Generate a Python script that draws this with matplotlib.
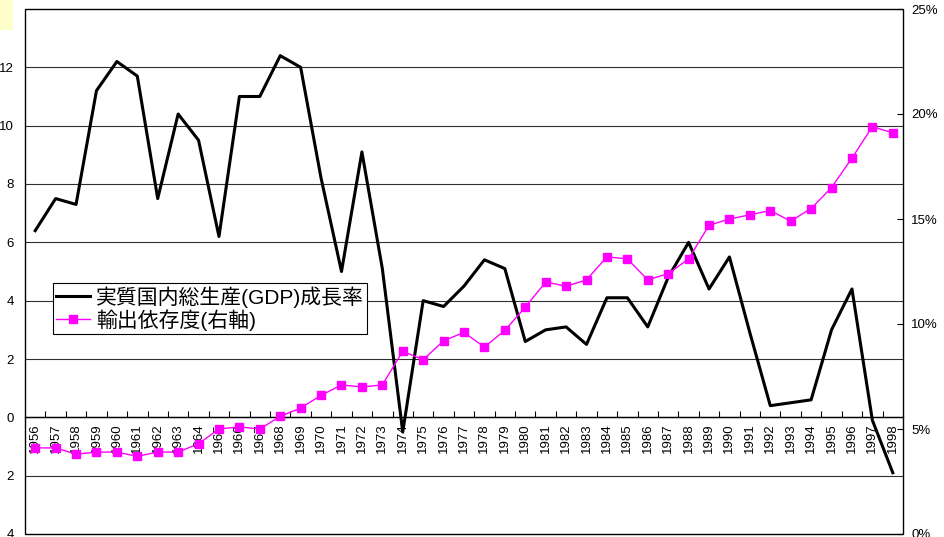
import numpy as np
import matplotlib
matplotlib.use('Agg')
import matplotlib.pyplot as plt
from matplotlib.patches import Rectangle
from matplotlib.ticker import FuncFormatter, FixedLocator

plt.rcParams['font.family'] = ['Liberation Sans', 'Noto Sans CJK JP']

# data
years = list(range(1956, 1999))
gdp_growth = [6.4, 7.5, 7.3, 11.2, 12.2, 11.7, 7.5, 10.4, 9.5, 6.2,
              11.0, 11.0, 12.4, 12.0, 8.2, 5.0, 9.1, 5.1, -0.5, 4.0,
              3.8, 4.5, 5.4, 5.1, 2.6, 3.0, 3.1, 2.5, 4.1, 4.1,
              3.1, 4.8, 6.0, 4.4, 5.5, 2.9, 0.4, 0.5, 0.6, 3.0,
              4.4, -0.1, -1.9]
export_dep = [4.1, 4.1, 3.8, 3.9, 3.9, 3.7, 3.9, 3.9, 4.3, 5.0,
              5.1, 5.0, 5.6, 6.0, 6.6, 7.1, 7.0, 7.1, 8.7, 8.3,
              9.2, 9.6, 8.9, 9.7, 10.8, 12.0, 11.8, 12.1, 13.2, 13.1,
              12.1, 12.4, 13.1, 14.7, 15.0, 15.2, 15.4, 14.9, 15.5, 16.5,
              17.9, 19.4, 19.1]
left_ticks = [-4, -2, 0, 2, 4, 6, 8, 10, 12, 14]
right_ticks = [0, 5, 10, 15, 20, 25]
gdp_label = '実質国内総生産(GDP)成長率'
exp_label = '輸出依存度(右軸)'

fig = plt.figure(figsize=(9.45, 5.37), dpi=100)
fig.patches.append(Rectangle((0, 0.945), 0.014, 0.055, transform=fig.transFigure,
                             facecolor='#FFFFCC', edgecolor='none'))
ax = fig.add_axes([25/945, 3/537, 878/945, 525/537])
x = np.arange(len(years))

ax.set_xlim(-0.5, len(years) - 0.5)
ax.set_ylim(-4, 14)
ax.set_yticks(left_ticks)
ax.yaxis.set_major_formatter(FuncFormatter(lambda v, p: '' if v == 14 else '%d' % abs(v)))
ax.tick_params(axis='y', length=0, pad=8, labelsize=9.5)
for v in left_ticks[1:-1]:
    ax.axhline(v, color='#303030', lw=0.8, zorder=1)

for s in ax.spines.values():
    s.set_visible(False)
ax.spines['bottom'].set_visible(True)
ax.spines['bottom'].set_position(('data', 0))
ax.spines['bottom'].set_linewidth(1)
ax.add_patch(Rectangle((0, 0), 1, 1, transform=ax.transAxes, fill=False,
                       edgecolor='black', lw=1, clip_on=False, zorder=5))

ax.set_xticks(x)
ax.set_xticklabels([str(y) for y in years], rotation=90, fontsize=9.5)
ax.xaxis.set_minor_locator(FixedLocator(x[:-1] + 0.5))
ax.tick_params(axis='x', which='major', length=0, pad=4)
ax.tick_params(axis='x', which='minor', direction='in', length=4, width=0.8)

l1, = ax.plot(x, gdp_growth, color='black', lw=2.2, zorder=3)

ax2 = ax.twinx()
ax2.set_ylim(0, 25)
ax2.set_yticks(right_ticks)
ax2.yaxis.set_major_formatter(FuncFormatter(lambda v, p: '%d%%' % v))
ax2.tick_params(axis='y', direction='in', length=4, pad=6, labelsize=9.5)
for s in ax2.spines.values():
    s.set_visible(False)
l2, = ax2.plot(x, export_dep, color='#FF00FF', lw=1, marker='s', markersize=6, zorder=3)

leg = ax2.legend([l1, l2], [gdp_label, exp_label], loc='upper left',
                 bbox_to_anchor=(0.032, 0.478), fontsize=15, frameon=True,
                 fancybox=False, framealpha=1, edgecolor='black',
                 handlelength=1.6, handletextpad=0.3, borderpad=0.15,
                 labelspacing=0.05, borderaxespad=0)
leg.get_frame().set_linewidth(0.8)

fig.savefig('out.png', dpi=100)
